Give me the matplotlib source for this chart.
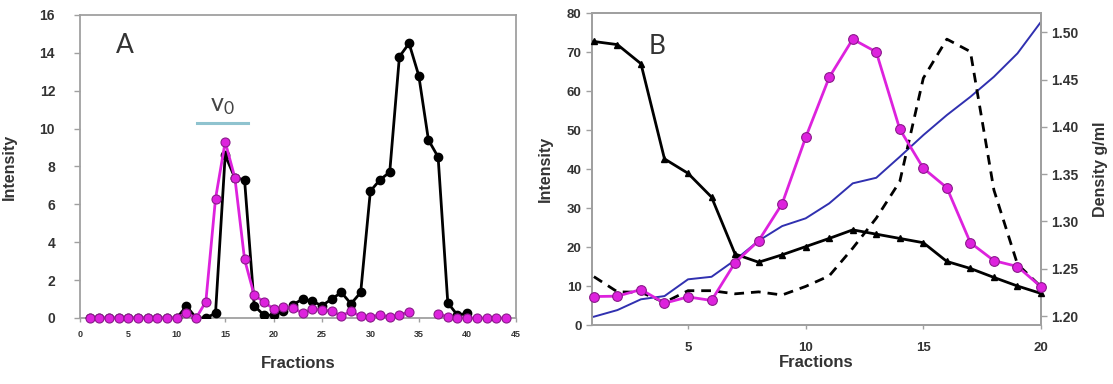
import numpy as np
import matplotlib
matplotlib.use("Agg")
import matplotlib.pyplot as plt

nan = np.nan

# ---------------- Panel A data ----------------
fracA = list(range(1, 45))
a_black = [0, 0, 0, 0, 0, 0, 0, 0, 0, 0,
           0.62, 0.0, 0.0, 0.25, 8.6, 7.4, 7.3, 0.65, 0.15, 0.15,
           0.35, 0.7, 1.0, 0.88, 0.65, 1.0, 1.35, 0.75, 1.35, 6.7,
           7.3, 7.7, 13.8, 14.5, 12.8, 9.4, 8.5, 0.8, 0.15, 0.25,
           nan, nan, nan, nan]
a_magenta = [0, 0, 0, 0, 0, 0, 0, 0, 0, 0,
             0.25, 0.0, 0.86, 6.3, 9.3, 7.4, 3.1, 1.2, 0.86, 0.47,
             0.58, 0.53, 0.26, 0.47, 0.44, 0.35, 0.12, 0.35, 0.09, 0.05,
             0.18, 0.05, 0.18, 0.3, nan, nan, 0.23, 0.05, 0.02, 0.0,
             0.0, 0.0, 0.0, 0.0]
v0_span = [12.1, 17.4]
v0_level = 10.3
xticksA = list(range(0, 50, 5))
yticksA = list(range(0, 18, 2))

# ---------------- Panel B data ----------------
fracB = list(range(1, 21))
b_black = [72.7, 71.9, 67.0, 42.6, 38.9, 32.8, 18.2, 16.1, 18.0, 20.1,
           22.2, 24.4, 23.3, 22.2, 21.1, 16.3, 14.5, 12.2, 10.0, 8.1]
b_magenta = [7.3, 7.4, 9.1, 5.6, 7.2, 6.3, 16.0, 21.6, 31.1, 48.1,
             63.5, 73.3, 70.0, 50.2, 40.2, 35.2, 21.1, 16.5, 15.0, 9.8]
b_dashed = [12.4, 8.5, 8.4, 5.8, 8.8, 8.8, 8.0, 8.5, 7.7, 9.9,
            12.6, 19.7, 27.4, 36.8, 63.3, 73.3, 70.1, 34.6, 15.6, 9.8]
b_density = [1.1993, 1.2063, 1.2177, 1.2211, 1.2388, 1.2415, 1.2592, 1.2796, 1.2951, 1.3033,
             1.3191, 1.3403, 1.3462, 1.3684, 1.3913, 1.4125, 1.4318, 1.4530, 1.4777, 1.5111]
xticksB = [5, 10, 15, 20]
yticksB = list(range(0, 90, 10))
yticksB2 = [1.20, 1.25, 1.30, 1.35, 1.40, 1.45, 1.50]

FONT = "Liberation Sans"
SPINE = "#a0a0a0"
TXT = "#333333"
MAG = "#dd22dd"
MAG_EDGE = "#8a1a8a"
BLUE = "#3030b0"

plt.rcParams["font.family"] = [FONT, "DejaVu Sans"]

fig = plt.figure(figsize=(11.13, 3.84), dpi=100)

def style_axes(ax):
    for s in ax.spines.values():
        s.set_color(SPINE)
        s.set_linewidth(1.3)
    ax.tick_params(colors=SPINE, labelcolor=TXT, direction="out", length=4, width=1.0)

# ---------------- Panel A ----------------
axA = fig.add_axes([0.0719, 0.1719, 0.3913, 0.7891])
style_axes(axA)
axA.plot(fracA, a_black, color="black", lw=2.0, marker="o", ms=6,
         mfc="black", mec="black", zorder=3)
axA.plot(fracA, a_magenta, color=MAG, lw=2.0, marker="o", ms=6.5,
         mfc=MAG, mec=MAG_EDGE, mew=0.8, zorder=4, clip_on=False)
axA.plot(v0_span, [v0_level, v0_level], color="#8fc3cf", lw=2.2, zorder=2)
axA.text(14.7, 11.2, r"$\mathregular{v_0}$", fontsize=18, color="#444444",
         ha="center", va="center", family="Lato")
axA.text(4.65, 14.4, "A", fontsize=19, color="#333333", ha="center", va="center",
         family="Lato")
axA.set_xlim(0, 45)
axA.set_ylim(0, 16)
axA.set_xticks(xticksA)
axA.set_yticks(yticksA)
axA.set_xticklabels([str(t) for t in xticksA], fontsize=6.5, fontweight="bold")
axA.set_yticklabels([str(t) for t in yticksA], fontsize=10, fontweight="bold")
axA.tick_params(axis="x", length=3, pad=6)
axA.tick_params(axis="y", pad=14)
axA.set_xlabel("Fractions", fontsize=12, fontweight="bold", color=TXT, labelpad=12)
axA.set_ylabel("Intensity", fontsize=11.5, fontweight="bold", color=TXT, labelpad=16)

# ---------------- Panel B ----------------
axB = fig.add_axes([0.5319, 0.1536, 0.4034, 0.8125])
style_axes(axB)
axB2 = axB.twinx()
style_axes(axB2)
axB2.plot(fracB, b_density, color=BLUE, lw=1.4, zorder=2)
axB.plot(fracB, b_dashed, color="black", lw=2.0, ls=(0, (3.5, 2.5)), zorder=3)
axB.plot(fracB, b_black, color="black", lw=2.0, marker="^", ms=5,
         mfc="black", mec="black", zorder=4, clip_on=False)
axB.plot(fracB, b_magenta, color=MAG, lw=2.0, marker="o", ms=7,
         mfc=MAG, mec=MAG_EDGE, mew=0.8, zorder=5, clip_on=False)
axB.set_zorder(axB2.get_zorder() + 1)
axB.patch.set_visible(False)
axB.text(3.7, 71.5, "B", fontsize=19, color="#333333", ha="center", va="center",
         family="Lato")
axB.set_xlim(0.92, 20)
axB.set_ylim(0, 80)
axB.set_xticks(xticksB)
axB.set_yticks(yticksB)
axB.set_xticklabels([str(t) for t in xticksB], fontsize=9.5, fontweight="bold")
axB.set_yticklabels([str(t) for t in yticksB], fontsize=9.5, fontweight="bold")
axB.tick_params(axis="x", length=3, pad=9)
axB.set_xlabel("Fractions", fontsize=12, fontweight="bold", color=TXT, labelpad=1)
axB.set_ylabel("Intensity", fontsize=11.5, fontweight="bold", color=TXT, labelpad=10)
axB2.set_ylim(1.1905, 1.5204)
axB2.set_yticks(yticksB2)
axB2.set_yticklabels(["%.2f" % t for t in yticksB2], fontsize=10, fontweight="bold")
axB2.set_ylabel("Density g/ml", fontsize=11.5, fontweight="bold", color=TXT, labelpad=10)

fig.savefig("out.png", dpi=100)
